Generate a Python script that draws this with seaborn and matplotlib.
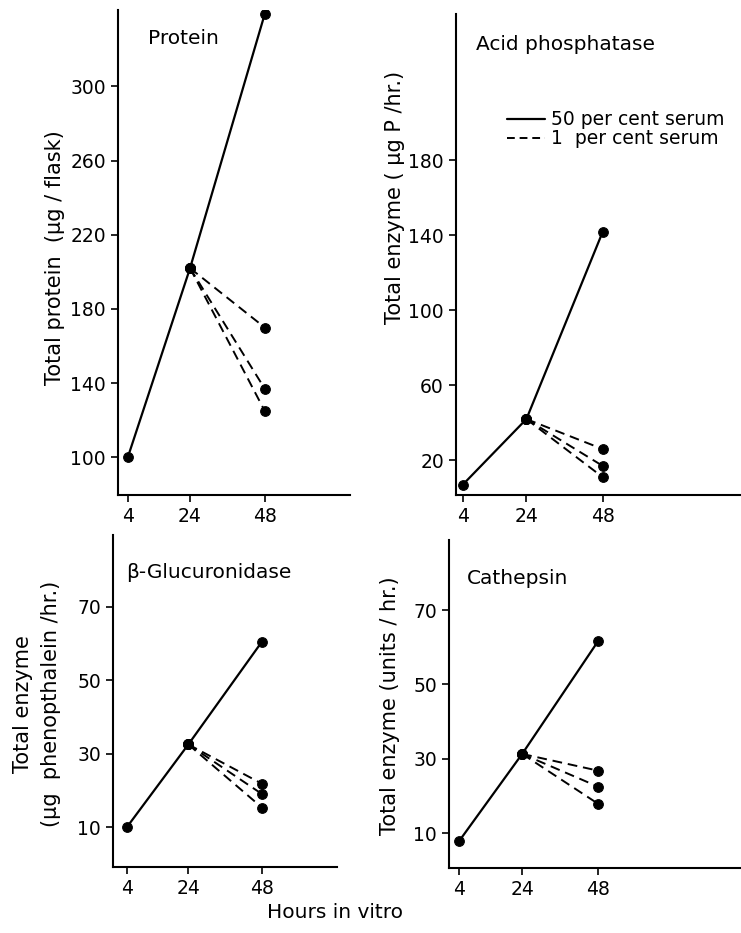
import pandas as pd
import matplotlib.pyplot as plt
import seaborn as sns
from matplotlib.lines import Line2D

# values
hours = [4, 24, 48]
branch_hours = [24, 48]

protein_50 = [100, 202, 339]
protein_1 = [170, 137, 125]

acid_50 = [7, 42, 142]
acid_1 = [26, 17, 11]

gluc_50 = [10, 32.5, 60.5]
gluc_1 = [21.8, 19, 15.3]

cath_50 = [7.8, 31.3, 61.6]
cath_1 = [26.8, 22.5, 17.9]

sns.set_style("ticks")
plt.rcParams['font.family'] = ['DejaVu Sans']
plt.rcParams['text.color'] = 'black'
plt.rcParams['axes.labelcolor'] = 'black'

fig = plt.figure(figsize=(7.41, 9.33), dpi=100)

panels = [
    # name, 50% series, 1% values at 48h, ylabel, axes rect, xlim, ylim, yticks, title pos, label pos
    ("Protein", protein_50, protein_1, "Total protein  (\u03bcg / flask)",
     [0.159, 0.469, 0.313, 0.520], (0.8, 75.3), (79.5, 341), [100, 140, 180, 220, 260, 300],
     (0.13, 0.93), (-0.272, 0.49)),
    ("Acid phosphatase", acid_50, acid_1, "Total enzyme ( \u03bcg P /hr.)",
     [0.615, 0.469, 0.385, 0.516], (1.8, 91.4), (1.3, 258), [20, 60, 100, 140, 180],
     (0.07, 0.925), (-0.214, 0.62)),
    ("\u03b2-Glucuronidase", gluc_50, gluc_1, "Total enzyme\n(\u03bcg  phenopthalein /hr.)",
     [0.1525, 0.0707, 0.302, 0.356], (-0.56, 72.4), (-0.9, 89.6), [10, 30, 50, 70],
     (0.06, 0.87), (-0.34, 0.49)),
    ("Cathepsin", cath_50, cath_1, "Total enzyme (units / hr.)",
     [0.606, 0.0697, 0.394, 0.3516], (0.84, 93.3), (0.6, 88.9), [10, 30, 50, 70],
     (0.06, 0.865), (-0.202, 0.494)),
]

for name, v50, v1, ylab, rect, xlim, ylim, yticks, tpos, lpos in panels:
    ax = fig.add_axes(rect)
    sns.lineplot(x=hours, y=v50, color='black', lw=1.6, marker='o', ms=7,
                 mec='black', mfc='black', legend=False, ax=ax)
    for end in v1:
        sns.lineplot(x=branch_hours, y=[v50[1], end], color='black', lw=1.4,
                     linestyle=(0, (5, 3)), marker='o', ms=7, mec='black',
                     mfc='black', legend=False, ax=ax)
    ax.set_xlim(*xlim)
    ax.set_ylim(*ylim)
    ax.set_xticks(hours)
    ax.set_yticks(yticks)
    ax.tick_params(direction='out', length=5, width=1.2, labelsize=13.5, colors='black')
    ax.set_ylabel(ylab, fontsize=15, linespacing=1.45)
    ax.yaxis.set_label_coords(*lpos)
    ax.yaxis.label.set_verticalalignment('center')
    ax.text(tpos[0], tpos[1], name, transform=ax.transAxes, fontsize=14.5)
    sns.despine(ax=ax)
    for s in ['left', 'bottom']:
        ax.spines[s].set_linewidth(1.5)
        ax.spines[s].set_color('black')
    if name == "Acid phosphatase":
        handles = [Line2D([], [], color='black', lw=1.6),
                   Line2D([], [], color='black', lw=1.4, linestyle=(0, (4, 2.5)))]
        fig.legend(handles, ["50 per cent serum", "1  per cent serum"],
                   loc='upper left', bbox_to_anchor=(0.672, 0.892), frameon=False,
                   fontsize=13.5, handlelength=2.0, handletextpad=0.35,
                   labelspacing=0.0, borderpad=0)

fig.text(0.452, 0.0225, "Hours in vitro", ha='center', va='center', fontsize=14.5)

fig.savefig("out.png", dpi=100)
